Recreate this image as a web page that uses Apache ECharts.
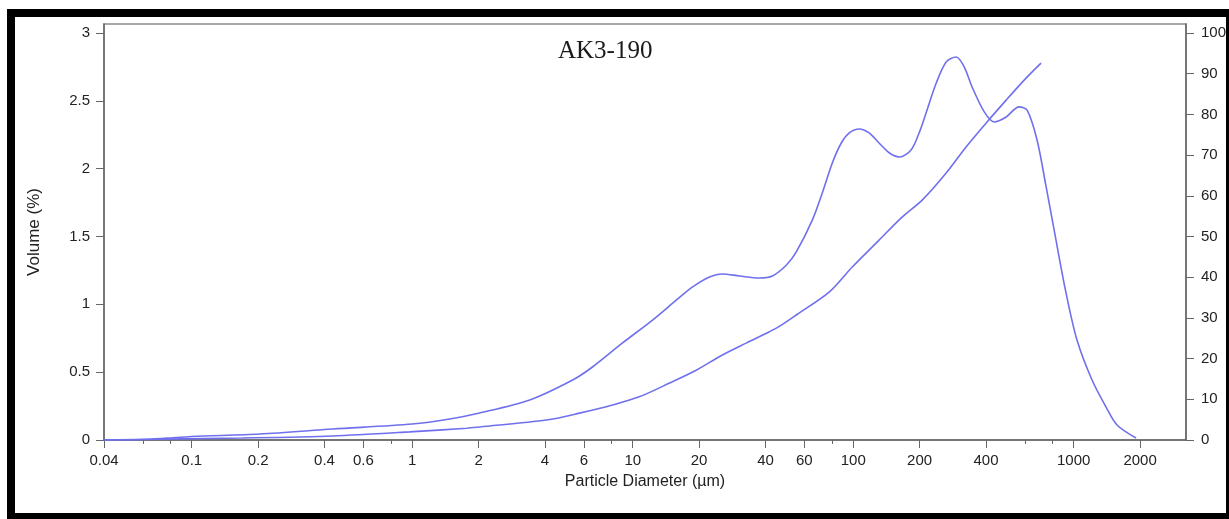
<!DOCTYPE html>
<html>
<head>
<meta charset="utf-8">
<title>AK3-190</title>
<script src="https://cdn.jsdelivr.net/npm/echarts@6/dist/echarts.min.js"></script>
<style>
  html, body { margin: 0; padding: 0; background: #fff; }
  #chart { width: 1229px; height: 519px; }
</style>
</head>
<body>
<div id="chart"></div>
<script>
// 粒径 (µm) 与体积密度 (%)
var volumeDiameter = [0.04, 0.06, 0.077, 0.1, 0.204, 0.436, 1.0, 1.48, 2.02, 3.41, 5.34, 6.57, 8.99, 12.3, 15.8, 18.7, 22.3, 25.5, 30.5, 37.5, 43.0, 49.8, 55.2, 65.3, 72.4, 80.4, 88.3, 96, 106.5, 118, 131, 146, 162, 183, 199, 214, 238, 264, 293, 319, 346, 393, 436, 494, 565, 615, 682, 750, 815, 923, 1035, 1211, 1402, 1572, 1918];
var volumeValue = [0, 0.004, 0.014, 0.026, 0.044, 0.081, 0.118, 0.155, 0.199, 0.295, 0.442, 0.538, 0.715, 0.884, 1.032, 1.128, 1.201, 1.224, 1.209, 1.194, 1.209, 1.29, 1.386, 1.622, 1.821, 2.042, 2.189, 2.263, 2.292, 2.263, 2.189, 2.115, 2.086, 2.138, 2.263, 2.41, 2.631, 2.786, 2.823, 2.749, 2.602, 2.418, 2.344, 2.381, 2.455, 2.432, 2.211, 1.865, 1.548, 1.084, 0.737, 0.442, 0.243, 0.111, 0.015];

// 累计曲线 (右轴)
var cumDiameter = [0.04, 0.17, 0.436, 0.974, 1.77, 2.02, 4.06, 5.74, 8.1, 10.7, 14.7, 19.5, 25.5, 32.7, 41.7, 46.2, 55.8, 78, 99, 131, 167, 206, 264, 325, 401, 494, 608, 711];
var cumValue = [0, 0.5, 1.0, 2.0, 2.9, 3.2, 4.9, 6.6, 8.6, 10.6, 14.0, 17.2, 20.9, 23.8, 26.6, 27.9, 30.9, 36.4, 42.5, 49.1, 54.8, 59.0, 65.6, 72.0, 77.9, 83.5, 88.9, 92.6];

// 坐标刻度
var xTickLabels = [0.04, 0.1, 0.2, 0.4, 0.6, 1, 2, 4, 6, 10, 20, 40, 60, 100, 200, 400, 1000, 2000];
var xMinorTicks = [0.06, 0.08, 0.8, 8, 80, 600, 800];
var yLeftTicks = [0, 0.5, 1, 1.5, 2, 2.5, 3];
var yRightTicks = [0, 10, 20, 30, 40, 50, 60, 70, 80, 90, 100];

var LINE_COLOR = '#7070ee';
var AXIS_COLOR = '#666';
var LABEL_FONT = 'Liberation Sans';
var TEXT_COLOR = '#222';

function pairUp(xs, ys) {
  var out = [];
  for (var i = 0; i < xs.length; i++) {
    out.push([xs[i], ys[i]]);
  }
  return out;
}

var chart = echarts.init(document.getElementById('chart'));

var option = {
  animation: false,
  backgroundColor: '#fff',
  title: {
    text: 'AK3-190',
    left: 553,
    top: 34,
    textStyle: {
      fontFamily: 'Liberation Serif',
      fontSize: 25,
      fontWeight: 'normal',
      color: '#1a1a1a'
    }
  },
  grid: {
    left: 104,
    right: 43,
    top: 24,
    bottom: 79,
    show: true,
    borderColor: '#8a8a8a',
    borderWidth: 1.5
  },
  xAxis: [{
    type: 'log',
    logBase: 10,
    min: 0.04,
    max: 3230,
    name: 'Particle Diameter (µm)',
    nameLocation: 'middle',
    nameGap: 34,
    nameTextStyle: { fontFamily: LABEL_FONT, fontSize: 16, color: TEXT_COLOR },
    axisLine: { show: true, lineStyle: { color: AXIS_COLOR, width: 1.5 } },
    axisTick: { show: true, inside: false, length: 8, customValues: xTickLabels, lineStyle: { color: AXIS_COLOR } },
    axisLabel: {
      customValues: xTickLabels,
      margin: 13,
      fontFamily: LABEL_FONT,
      fontSize: 15,
      color: TEXT_COLOR,
      formatter: function (v) { return String(+v.toPrecision(3)); }
    },
    splitLine: { show: false }
  }, {
    // 次刻度
    type: 'log',
    logBase: 10,
    min: 0.04,
    max: 3230,
    position: 'bottom',
    axisLine: { show: false },
    axisTick: { show: true, length: 4, customValues: xMinorTicks, lineStyle: { color: AXIS_COLOR } },
    axisLabel: { show: false },
    splitLine: { show: false }
  }],
  yAxis: [{
    type: 'value',
    min: 0,
    max: 3.066,
    name: 'Volume (%)',
    nameLocation: 'middle',
    nameGap: 61,
    nameTextStyle: { fontFamily: LABEL_FONT, fontSize: 17, color: TEXT_COLOR },
    axisLine: { show: true, lineStyle: { color: AXIS_COLOR, width: 1.5 } },
    axisTick: { show: true, length: 8, customValues: yLeftTicks, lineStyle: { color: AXIS_COLOR } },
    axisLabel: {
      customValues: yLeftTicks,
      margin: 14,
      fontFamily: LABEL_FONT,
      fontSize: 15,
      color: TEXT_COLOR
    },
    splitLine: { show: false }
  }, {
    type: 'value',
    min: 0,
    max: 102.2,
    position: 'right',
    axisLine: { show: true, lineStyle: { color: AXIS_COLOR, width: 1.5 } },
    axisTick: { show: true, length: 8, customValues: yRightTicks, lineStyle: { color: AXIS_COLOR } },
    axisLabel: {
      customValues: yRightTicks,
      margin: 15,
      fontFamily: LABEL_FONT,
      fontSize: 15,
      color: TEXT_COLOR
    },
    splitLine: { show: false }
  }],
  series: [{
    name: 'Volume',
    type: 'line',
    xAxisIndex: 0,
    yAxisIndex: 0,
    data: pairUp(volumeDiameter, volumeValue),
    smooth: 0.3,
    showSymbol: false,
    lineStyle: { color: LINE_COLOR, width: 1.6 }
  }, {
    name: 'Cumulative',
    type: 'line',
    xAxisIndex: 0,
    yAxisIndex: 1,
    data: pairUp(cumDiameter, cumValue),
    smooth: 0.3,
    showSymbol: false,
    lineStyle: { color: LINE_COLOR, width: 1.6 }
  }],
  graphic: [{
    // 黑色外框
    type: 'rect',
    z: 100,
    silent: true,
    shape: { x: 11, y: 13, width: 1219, height: 504 },
    style: { fill: null, stroke: '#000', lineWidth: 8 }
  }]
};

chart.setOption(option);
</script>
</body>
</html>
